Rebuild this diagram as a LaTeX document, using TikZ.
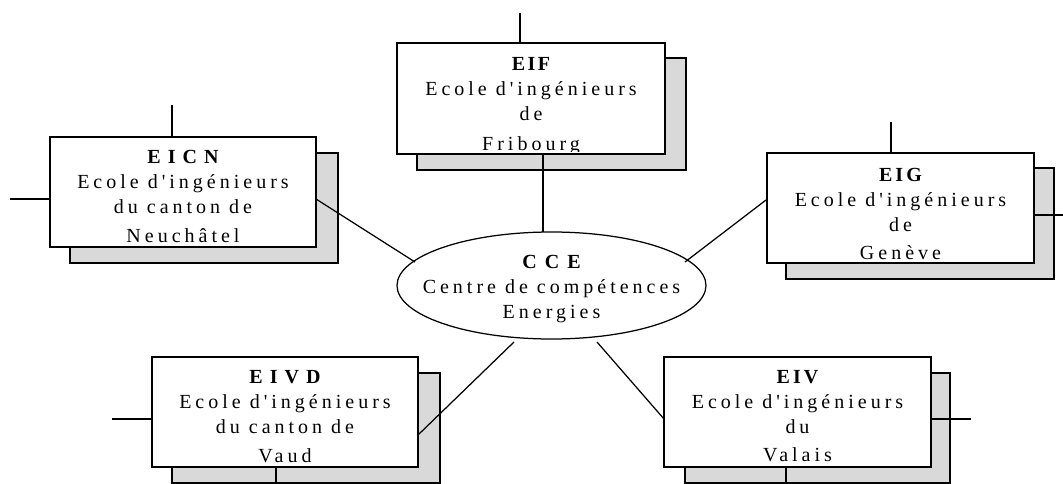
\documentclass[tikz,border=0pt]{standalone}
\usepackage{fontspec}
\setmainfont{Liberation Serif}[LetterSpace=20,Ligatures=TeXOff]
\usetikzlibrary{shapes.geometric}
\newcommand{\hd}[2]{{\bfseries\addfontfeature{LetterSpace=#1}#2}}
\begin{document}
\begin{tikzpicture}[x=1pt,y=-1pt,line width=1.25pt,
  front/.style={draw,fill=white,rectangle,inner sep=0pt},
  shadowbox/.style={draw,fill=black!15,rectangle,inner sep=0pt},
  txt/.style={align=center,inner sep=0pt,anchor=north,font=\fontsize{20}{25}\selectfont},
  link/.style={draw,line width=1.25pt}]
\useasboundingbox (0,0) rectangle (1063,484);

% shadows
\node[shadowbox,minimum width=268pt,minimum height=110pt] (eicnS) at (204,208) {};
\node[shadowbox,minimum width=269pt,minimum height=112pt] (eifS) at (551.5,114) {};
\node[shadowbox,minimum width=268pt,minimum height=111pt] (eigS) at (920,223.5) {};
\node[shadowbox,minimum width=268pt,minimum height=110pt] (eivdS) at (306,428) {};
\node[shadowbox,minimum width=265pt,minimum height=110pt] (eivS) at (817.5,428) {};

% front boxes
\node[front,minimum width=266pt,minimum height=110pt] (eicn) at (183,192) {};
\node[front,minimum width=268pt,minimum height=111pt] (eif) at (531,98.5) {};
\node[front,minimum width=267pt,minimum height=110pt] (eig) at (900.5,208) {};
\node[front,minimum width=266pt,minimum height=110pt] (eivd) at (285,412) {};
\node[front,minimum width=267pt,minimum height=110pt] (eiv) at (797.5,412) {};

% centre
\node[draw,ellipse,fill=white,minimum width=309pt,minimum height=107pt,inner sep=0pt] (cce) at (551.5,285.5) {};

% connector end points
\coordinate (cA) at (415,262);
\coordinate (cB) at (543,232);
\coordinate (cC) at (685,262);
\coordinate (cD) at (514,342);
\coordinate (cE) at (597,342);
\coordinate (eicnR) at (316,199);
\coordinate (eifB) at (543,154);
\coordinate (eigL) at (766,200);
\coordinate (eivdR) at (418,435);
\coordinate (eivL) at (664,419);

% stubs
\coordinate (s1a) at (172,105); \coordinate (s1b) at (172,137);
\coordinate (s2a) at (10,199);  \coordinate (s2b) at (50,199);
\coordinate (s3a) at (520,13);  \coordinate (s3b) at (520,43);
\coordinate (s4a) at (891,122); \coordinate (s4b) at (891,153);
\coordinate (s5a) at (1033,215);\coordinate (s5b) at (1063,215);
\coordinate (s6a) at (112,419); \coordinate (s6b) at (152,419);
\coordinate (s7a) at (276,467); \coordinate (s7b) at (276,483);
\coordinate (s8a) at (931,419); \coordinate (s8b) at (971,419);
\coordinate (s9a) at (786,467); \coordinate (s9b) at (786,483);

\path[link] (eicnR) -- (cA);
\path[link] (eifB) -- (cB);
\path[link] (eigL) -- (cC);
\path[link] (eivdR) -- (cD);
\path[link] (eivL) -- (cE);
\foreach \i in {1,...,9} {\path[link] (s\i a) -- (s\i b);}

% texts
\node[txt] (t1) at ([yshift=-13pt]eicn.north) {\hd{35}{EICN}\\Ecole d'ingénieurs\\du canton de\\[4pt]Neuchâtel};
\begin{scope}
  \clip ([yshift=3pt]eif.south west) rectangle (eif.north east);
  \node[txt] (t2) at ([yshift=-14pt]eif.north) {\hd{12}{EIF}\\Ecole d'ingénieurs\\de\\[5pt]Fribourg};
\end{scope}
\node[txt] (t3) at ([yshift=-15pt]eig.north) {\hd{15}{EIG}\\Ecole d'ingénieurs\\de\\[3pt]Genève};
\node[txt] (t4) at ([yshift=-13pt]eivd.north) {\hd{35}{EIVD}\\Ecole d'ingénieurs\\du canton de\\[4pt]Vaud};
\node[txt] (t5) at ([yshift=-13pt]eiv.north) {\hd{15}{EIV}\\Ecole d'ingénieurs\\du\\[3pt]Valais};
\node[txt] (t6) at ([yshift=-23pt]cce.north) {\hd{40}{CCE}\\Centre de compétences\\Energies};
\end{tikzpicture}
\end{document}
